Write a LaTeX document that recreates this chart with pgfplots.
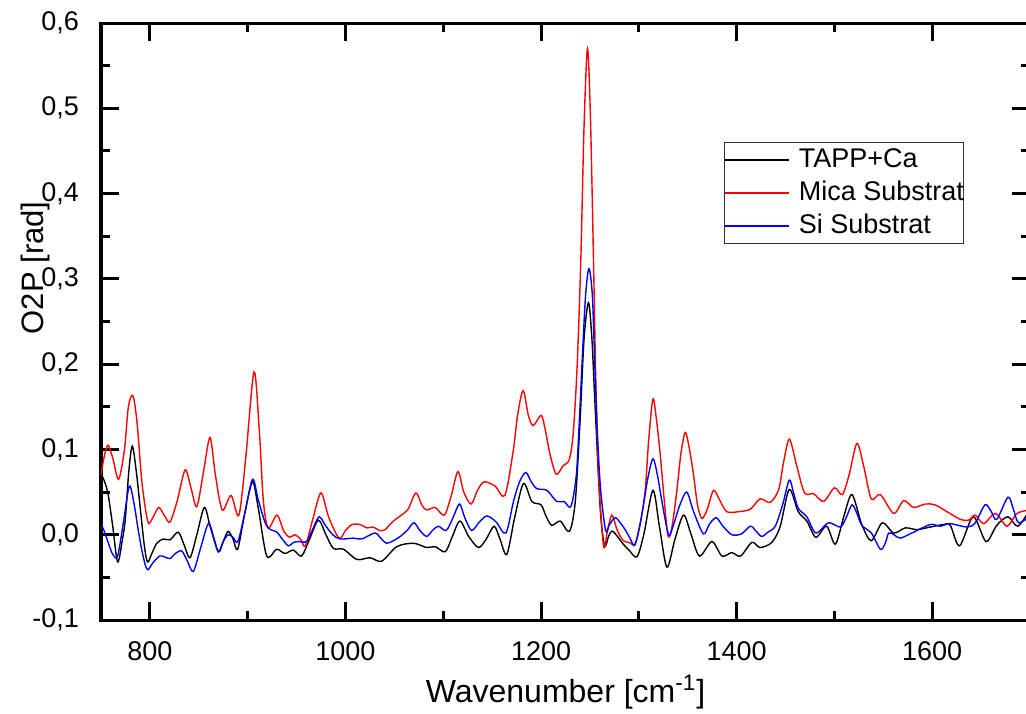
\documentclass[border=0pt]{standalone}
\usepackage{fontspec}
\setmainfont{Liberation Sans}
\usepackage{pgfplots}
\usepackage{pgfplotstable}
\pgfplotsset{compat=1.18}

\pgfplotstableread{
x y
750 0.068
752 0.067
757 0.049
762 0.010
767 -0.032
772 -0.005
775 0.020
778.5 0.075
782 0.104
786 0.075
790 0.033
794 -0.010
797.5 -0.032
802 -0.022
807 -0.010
813.7 -0.005
820.6 -0.006
829 0.003
835 -0.012
841 -0.027
848 0.000
855.7 0.032
862 0.008
870 -0.020
875 -0.008
880 0.004
885 -0.005
889.8 -0.017
897 0.025
905 0.062
911 0.030
919.5 -0.025
929.7 -0.017
938 -0.022
946.7 -0.018
955 -0.025
963 -0.006
972.3 0.017
980 0.000
987.6 -0.016
998 -0.017
1011.6 -0.029
1025 -0.027
1037 -0.031
1052.5 -0.014
1069.5 -0.010
1083 -0.015
1091.7 -0.014
1102 -0.020
1109 -0.003
1117 0.016
1126 -0.002
1136 -0.015
1144 -0.005
1152 0.010
1158 -0.005
1165 -0.023
1173 0.020
1182 0.060
1190.6 0.039
1200 0.035
1205 0.022
1211 0.011
1219.6 0.016
1229 0.004
1235 0.039
1240 0.136
1244 0.230
1248.5 0.272
1252 0.230
1255 0.157
1260.5 0.031
1265 -0.013
1269 -0.002
1273.4 0.004
1284 -0.011
1290 -0.018
1298 -0.026
1305 0.000
1314.4 0.052
1321 0.010
1328.7 -0.038
1337 -0.005
1345.7 0.023
1353 0.002
1362 -0.025
1374.7 -0.008
1385 -0.025
1395 -0.021
1404 -0.025
1415.6 -0.009
1424 -0.015
1436 -0.009
1444.6 0.010
1453.8 0.053
1463 0.027
1471.8 0.016
1481 -0.003
1492 0.010
1501 -0.011
1510 0.023
1518 0.047
1528 0.012
1537.7 -0.007
1549 0.014
1560.6 0.002
1572.5 0.008
1584.4 0.006
1598 0.009
1611.7 0.012
1618.5 0.011
1628 -0.013
1642 0.021
1655 -0.008
1666 0.011
1677.5 0.021
1687.7 0.010
1700 0.030
}\tappdata

\pgfplotstableread{
x y
750 0.070
753 0.090
757 0.105
762 0.090
768 0.065
774 0.100
778 0.150
782.7 0.163
787 0.130
792 0.060
798 0.015
803 0.020
809 0.032
815 0.022
820.6 0.015
828 0.040
836 0.076
842 0.055
848 0.033
855 0.075
861.5 0.114
867 0.070
874 0.029
883 0.046
891 0.023
898 0.090
906.5 0.191
912 0.120
916 0.040
921 0.008
930 0.023
937 0.004
943 -0.003
948 0.000
954 -0.005
959 -0.013
967 0.020
975 0.049
983 0.020
993.5 -0.004
1000 0.005
1006.8 0.012
1015 0.012
1022 0.008
1028 0.009
1035 0.005
1040.5 0.006
1048 0.015
1056 0.022
1064 0.030
1072 0.049
1078 0.035
1083 0.029
1091.7 0.032
1101 0.023
1108 0.045
1115 0.074
1121 0.050
1128.5 0.036
1135 0.052
1141.8 0.062
1153 0.057
1163 0.046
1171.5 0.098
1176 0.140
1181.7 0.169
1187 0.140
1192 0.128
1200 0.140
1204 0.125
1209 0.095
1215.5 0.071
1222.6 0.081
1228.8 0.088
1232.9 0.119
1237 0.200
1240.7 0.324
1244 0.480
1247.5 0.570
1250.5 0.490
1253.6 0.324
1256 0.180
1258.7 0.073
1263.9 -0.013
1268 0.005
1272.4 0.023
1278 0.005
1284 -0.007
1290 -0.009
1296 -0.011
1301 0.010
1306.5 0.052
1310 0.110
1314.4 0.159
1318 0.135
1321.9 0.094
1326 0.040
1330 -0.002
1334 0.010
1338.9 0.052
1343 0.095
1347.4 0.120
1351 0.105
1355.6 0.073
1360 0.035
1364.5 0.019
1370 0.030
1376.4 0.052
1383 0.040
1390 0.027
1402 0.027
1414 0.030
1424 0.042
1434.4 0.038
1443 0.053
1448 0.085
1454 0.112
1461.6 0.080
1469.5 0.049
1478.7 0.048
1489 0.039
1500 0.055
1508 0.047
1515 0.070
1523 0.107
1530 0.080
1537.7 0.042
1547 0.047
1560.6 0.025
1570.8 0.040
1581 0.032
1593 0.036
1603 0.035
1615 0.027
1628.8 0.018
1637 0.017
1644 0.023
1652.6 0.013
1664.6 0.025
1676.5 0.010
1686.7 0.025
1700 0.029
}\micadata

\pgfplotstableread{
x y
750 0.008
752 0.008
757 -0.008
762 -0.023
767 -0.025
773 0.015
779 0.057
784 0.035
788 0.006
793 -0.025
797.4 -0.041
803 -0.033
810 -0.025
815 -0.026
820.6 -0.028
826 -0.022
832.5 -0.019
838 -0.030
844.4 -0.043
852 -0.015
859.8 0.013
865 -0.002
870 -0.020
875 -0.008
880 0.000
885 -0.003
890 -0.008
897 0.025
905 0.065
911 0.040
919.5 0.010
929.7 0.003
936 -0.006
941.6 -0.013
947 -0.009
952 -0.008
960 -0.008
966 0.005
973 0.021
980 0.010
987 0.000
994.5 -0.005
1008 -0.004
1016.7 -0.005
1030 0.002
1036 -0.004
1042 -0.010
1049 -0.007
1056 -0.002
1063 0.005
1070 0.014
1076 0.005
1083 -0.002
1089 0.005
1095 0.010
1103 0.005
1110 0.020
1116.6 0.036
1122 0.020
1129 0.005
1137 0.015
1144.6 0.022
1154 0.015
1164 0.002
1171.8 0.039
1178 0.062
1184.4 0.073
1190 0.062
1195.7 0.054
1206 0.052
1216 0.039
1223.6 0.039
1230.5 0.033
1236 0.069
1239 0.130
1241.8 0.198
1245.5 0.280
1249 0.312
1252.5 0.280
1255 0.198
1258 0.110
1261 0.052
1266 0.005
1270 0.012
1275.8 0.020
1281 0.014
1286 0.006
1291 -0.004
1296 -0.012
1303 0.023
1309 0.065
1314.4 0.089
1319 0.070
1323.6 0.039
1330.4 0.000
1335 0.010
1342 0.035
1349 0.050
1356 0.027
1366 0.001
1372 0.012
1379 0.020
1386 0.010
1395 0.000
1405 0.001
1414 0.010
1420 0.004
1425.8 -0.002
1432 0.003
1439.5 0.010
1447 0.035
1453.8 0.064
1458 0.050
1463 0.031
1471.8 0.021
1481 0.002
1494 0.014
1506 0.009
1512 0.020
1518 0.035
1523 0.025
1528 0.011
1537.7 0.002
1547 -0.017
1552 -0.010
1555.5 0.002
1561 0.000
1567.4 -0.004
1581 0.003
1598 0.012
1608 0.010
1618.5 0.013
1635.6 0.009
1644 0.014
1654 0.035
1660 0.028
1666 0.018
1677.5 0.044
1683 0.030
1688.4 0.014
1700 0.022
}\sidata

\begin{document}
\begin{tikzpicture}
\useasboundingbox (-50.5pt,-46.5pt) rectangle (462.5pt,310pt);
\begin{axis}[
  at={(0pt,0pt)}, anchor=south west,
  scale only axis, width=464.5pt, height=298.5pt,
  xmin=750, xmax=1700, ymin=-0.1, ymax=0.6,
  xtick={800,1000,1200,1400,1600}, minor x tick num=1,
  ytick={-0.1,0,0.1,0.2,0.3,0.4,0.5,0.6}, minor y tick num=1,
  tick align=inside,
  major tick length=9pt, minor tick length=4.5pt,
  tick style={line width=1.5pt, black},
  axis line style={line width=1.5pt},
  /pgf/number format/assume math mode=true,
  /pgf/number format/1000 sep={},
  tick label style={font=\fontsize{13.5}{15}\selectfont},
  yticklabel style={xshift=-7.5pt, /pgf/number format/.cd, fixed, fixed zerofill, precision=1, use comma, assume math mode=true},
  xticklabel style={yshift=-7.5pt},
  xlabel={Wavenumber [cm\textsuperscript{-1}]},
  ylabel={O2P [rad]},
  xlabel style={font=\fontsize{16}{19}\selectfont, at={(axis description cs:0.5,-0.139)}, anchor=base},
  ylabel style={font=\fontsize{15.5}{19}\selectfont, at={(axis description cs:-0.071,0.59)}, anchor=center},
  legend style={at={(axis description cs:0.6706,0.8007)}, anchor=north west,
    draw=black!80, line width=0.6pt, fill=white, inner xsep=0pt, inner ysep=0.5pt,
    font=\fontsize{13.5}{16}\selectfont,
    nodes={inner ysep=1.75pt, inner xsep=0pt, text height=10pt, text depth=3pt},
    column sep=4.5pt, cells={anchor=west}},
  legend image code/.code={\draw[#1, line width=0.6pt] (0pt,0pt) -- (32pt,0pt);},
]
\addplot[black, line width=0.7pt, smooth] table[x=x,y=y] {\tappdata};
\addplot[red, line width=0.7pt, smooth] table[x=x,y=y] {\micadata};
\addplot[blue, line width=0.7pt, smooth] table[x=x,y=y] {\sidata};
\legend{TAPP+Ca, Mica Substrat, Si Substrat}
\end{axis}
\end{tikzpicture}
\end{document}
